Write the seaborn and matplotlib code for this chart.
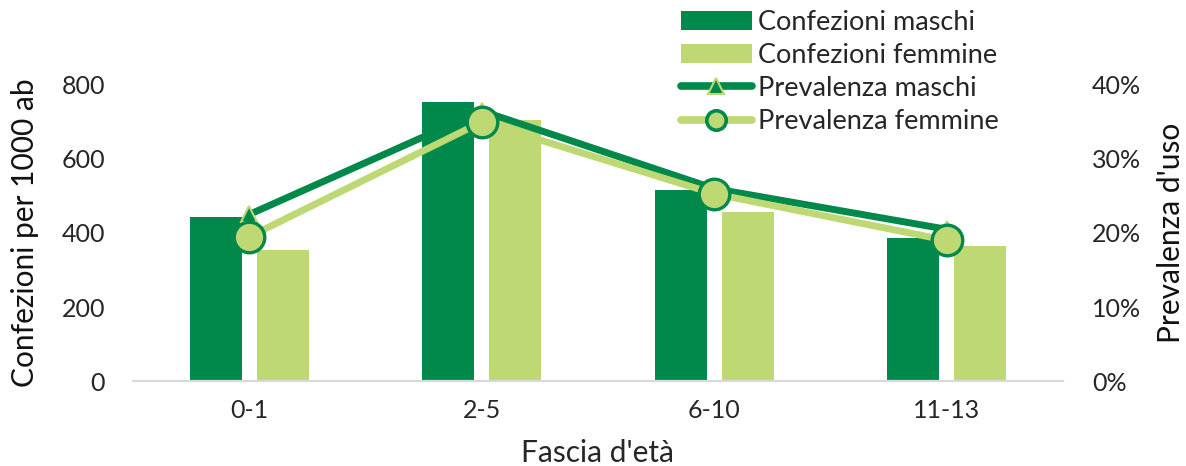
import matplotlib
matplotlib.use("Agg")
import matplotlib.pyplot as plt
import seaborn as sns
import pandas as pd
from matplotlib.lines import Line2D
from matplotlib.patches import Patch
from matplotlib.ticker import PercentFormatter

categories = ["0-1", "2-5", "6-10", "11-13"]
confezioni_maschi = [443, 754, 515, 387]
confezioni_femmine = [354, 705, 457, 365]
prevalenza_maschi = [22.5, 36.5, 26.0, 20.5]
prevalenza_femmine = [19.5, 35.0, 25.3, 19.0]
labels = ["Confezioni maschi", "Confezioni femmine", "Prevalenza maschi", "Prevalenza femmine"]
yticks_left = [0, 200, 400, 600, 800]
yticks_right = [0, 10, 20, 30, 40]

DARK = "#00894B"
LIGHT = "#BED873"
TEXT = "#262626"

sns.set_theme(style="white")
plt.rcParams["font.family"] = ["Lato", "DejaVu Sans"]

fig = plt.figure(figsize=(11.86, 4.66), dpi=100)
ax = fig.add_axes([0.1121, 0.1824, 0.8963 - 0.1121, 0.8176 - 0.1824])

bars = pd.DataFrame({
    "cat": categories * 2,
    "val": confezioni_maschi + confezioni_femmine,
    "serie": [labels[0]] * 4 + [labels[1]] * 4,
})
sns.barplot(data=bars, x="cat", y="val", hue="serie", order=categories,
            hue_order=labels[:2], palette=[DARK, LIGHT], width=0.575, gap=0.22,
            saturation=1, ax=ax, legend=False, linewidth=0)

ax2 = ax.twinx()
sns.pointplot(x=categories, y=prevalenza_maschi, order=categories, color=DARK,
              marker="^", markersize=12, linewidth=5, ax=ax2,
              markerfacecolor=DARK, markeredgecolor=LIGHT, markeredgewidth=1.5, zorder=3)
sns.pointplot(x=categories, y=prevalenza_femmine, order=categories, color=LIGHT,
              marker="o", markersize=22, linewidth=5, ax=ax2,
              markerfacecolor=LIGHT, markeredgecolor=DARK, markeredgewidth=2.4, zorder=4)

ax.set_xlim(-0.5, 3.5)
ax.set_ylim(0, 800)
ax.set_yticks(yticks_left)
ax2.set_ylim(0, 40)
ax2.set_yticks(yticks_right)
ax2.yaxis.set_major_formatter(PercentFormatter(decimals=0))
ax2.set_xlim(-0.5, 3.5)

for a in (ax, ax2):
    for s in ["top", "left", "right", "bottom"]:
        a.spines[s].set_visible(False)
    a.grid(False)
    a.tick_params(length=0, colors=TEXT, labelsize=18)
ax.spines["bottom"].set_visible(True)
ax.spines["bottom"].set_color("#D9D9D9")
ax.spines["bottom"].set_linewidth(1.6)
ax.tick_params(axis="y", pad=20)
ax.tick_params(axis="x", pad=13)
ax2.tick_params(axis="y", pad=21)

ax.set_xlabel("Fascia d'età", fontsize=21.5, color=TEXT, labelpad=12)
ax.set_ylabel("Confezioni per 1000 ab", fontsize=21.5, color="#111111", labelpad=16)
ax2.set_ylabel("Prevalenza d'uso", fontsize=21.5, color="#111111", labelpad=11)
ax2.set_xlabel("")

handles = [
    Patch(facecolor=DARK, edgecolor="none"),
    Patch(facecolor=LIGHT, edgecolor="none"),
    Line2D([], [], color=DARK, lw=5.5, marker="^", markersize=12,
           markerfacecolor=DARK, markeredgecolor=LIGHT, markeredgewidth=1.5),
    Line2D([], [], color=LIGHT, lw=5.5, marker="o", markersize=14,
           markerfacecolor=LIGHT, markeredgecolor=DARK, markeredgewidth=2.6),
]
leg = fig.legend(handles, labels, loc="upper left", bbox_to_anchor=(0.572, 0.985),
                 frameon=False, fontsize=19.5, handlelength=2.6, handletextpad=0.25,
                 labelspacing=0.3, borderpad=0.1, borderaxespad=0)
for t in leg.get_texts():
    t.set_color(TEXT)

fig.savefig("out.png", dpi=100)
